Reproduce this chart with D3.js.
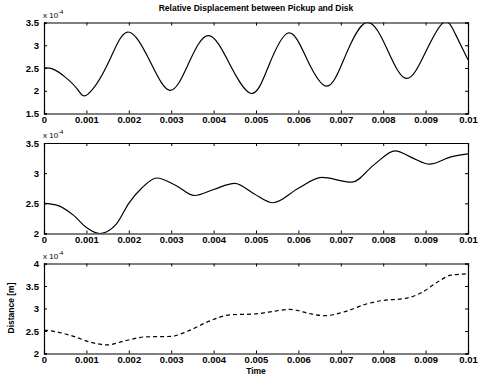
<!DOCTYPE html>
<html><head><meta charset="utf-8">
<script src="https://cdn.jsdelivr.net/npm/d3@7"></script>
<style>body{margin:0;background:#fff}svg{display:block}text{font-family:"Liberation Sans",Arial,sans-serif;fill:#000}</style>
</head><body><svg id="c" width="485" height="378"></svg>
<script>
// time in ms (x 1e-3 s), values in 1e-4
const t1 = [0,0.2,0.5,0.8,1.03,1.5,1.97,2.5,2.97,3.4,3.88,4.4,4.9,5.3,5.76,6.2,6.67,7.1,7.61,8.1,8.55,9.0,9.42,9.7,10];
const v1 = [2.50,2.48,2.30,2.02,1.92,2.58,3.29,2.65,2.01,2.58,3.21,2.55,1.94,2.55,3.27,2.70,2.10,2.75,3.50,2.90,2.27,2.85,3.50,3.25,2.68];
const t2 = [0,0.3,0.7,1.0,1.32,1.7,2.0,2.3,2.66,3.1,3.55,4.0,4.5,4.95,5.4,6.0,6.55,7.26,7.8,8.28,8.7,9.09,9.6,10];
const v2 = [2.50,2.47,2.30,2.10,2.00,2.15,2.50,2.75,2.92,2.80,2.63,2.73,2.83,2.66,2.51,2.75,2.93,2.85,3.15,3.37,3.25,3.15,3.27,3.32];
const t3 = [0,0.3,0.7,1.1,1.5,1.9,2.4,3.0,3.4,3.9,4.4,5.0,5.3,5.8,6.3,6.6,7.1,7.6,8.0,8.5,8.9,9.3,9.6,10];
const v3 = [2.52,2.48,2.38,2.25,2.19,2.28,2.37,2.38,2.50,2.72,2.86,2.88,2.92,2.98,2.88,2.84,2.93,3.10,3.18,3.22,3.35,3.60,3.74,3.77];
const xTicks = [0,0.001,0.002,0.003,0.004,0.005,0.006,0.007,0.008,0.009,0.01];
const xTickLabels = ["0","0.001","0.002","0.003","0.004","0.005","0.006","0.007","0.008","0.009","0.01"];
const yTicks1 = [1.5,2,2.5,3,3.5];
const yTicks2 = [2,2.5,3,3.5];
const yTicks3 = [2,2.5,3,3.5,4];
const title = "Relative Displacement between Pickup and Disk";
const xLabel = "Time";
const yLabel3 = "Distance [m]";

const svg = d3.select("#c");
const L = 44, R = 468;
const x = d3.scaleLinear().domain([0,0.01]).range([L,R]);

const panels = [
  {t:t1, v:v1, ticks:yTicks1, top:22.5, bot:113.5, dash:null, curve:d3.curveNatural},
  {t:t2, v:v2, ticks:yTicks2, top:143, bot:233.5, dash:null, curve:d3.curveMonotoneX},
  {t:t3, v:v3, ticks:yTicks3, top:263.5, bot:353.5, dash:"4,3", curve:d3.curveMonotoneX}
];

panels.forEach((p,i)=>{
  const y = d3.scaleLinear().domain(d3.extent(p.ticks)).range([p.bot,p.top]);
  const g = svg.append("g");
  const cid = "clip"+i;
  svg.append("clipPath").attr("id",cid).append("rect")
    .attr("x",L).attr("y",p.top).attr("width",R-L).attr("height",p.bot-p.top);
  const ax = g.append("g").attr("transform",`translate(0,${p.bot})`)
    .call(d3.axisBottom(x).tickValues(xTicks).tickSize(-3).tickPadding(5).tickFormat((d,k)=>xTickLabels[k]));
  const axTop = g.append("g").attr("transform",`translate(0,${p.top})`)
    .call(d3.axisTop(x).tickValues(xTicks).tickSize(-3).tickFormat(""));
  const ay = g.append("g").attr("transform",`translate(${L},0)`)
    .call(d3.axisLeft(y).tickValues(p.ticks).tickSize(-3).tickPadding(5).tickFormat(d=>d3.format("")(d)));
  const ayR = g.append("g").attr("transform",`translate(${R},0)`)
    .call(d3.axisRight(y).tickValues(p.ticks).tickSize(-3).tickFormat(""));
  [ax,axTop,ay,ayR].forEach(a=>{
    a.selectAll("path").attr("stroke","#000").attr("stroke-width",1.2);
    a.selectAll("line").attr("stroke","#000");
    a.selectAll("text").attr("font-size",9.5).attr("font-weight","bold")
      .attr("font-family","Liberation Sans, Arial, sans-serif");
  });
  ax.selectAll("text").attr("dy","0.5em");
  const ex = g.append("text").attr("x",L-1).attr("y",p.top-5).attr("font-size",8);
  ex.append("tspan").text("x 10");
  ex.append("tspan").attr("dy",-4).attr("font-size",6).text("-4");
  const data = p.t.map((tt,k)=>[tt/1000,p.v[k]]);
  g.append("path").datum(data).attr("clip-path",`url(#${cid})`)
    .attr("fill","none").attr("stroke","#000").attr("stroke-width",1.2)
    .attr("stroke-dasharray",p.dash)
    .attr("d",d3.line().x(d=>x(d[0])).y(d=>y(d[1])).curve(p.curve));
});

svg.append("text").attr("x",(L+R)/2).attr("y",11).attr("text-anchor","middle")
  .attr("font-size",8.5).attr("font-weight","bold").text(title);
svg.append("text").attr("x",(L+R)/2).attr("y",374).attr("text-anchor","middle")
  .attr("font-size",8.5).attr("font-weight","bold").text(xLabel);
svg.append("text").attr("transform","translate(14,308) rotate(-90)").attr("text-anchor","middle")
  .attr("font-size",8.5).attr("font-weight","bold").text(yLabel3);
</script></body></html>
